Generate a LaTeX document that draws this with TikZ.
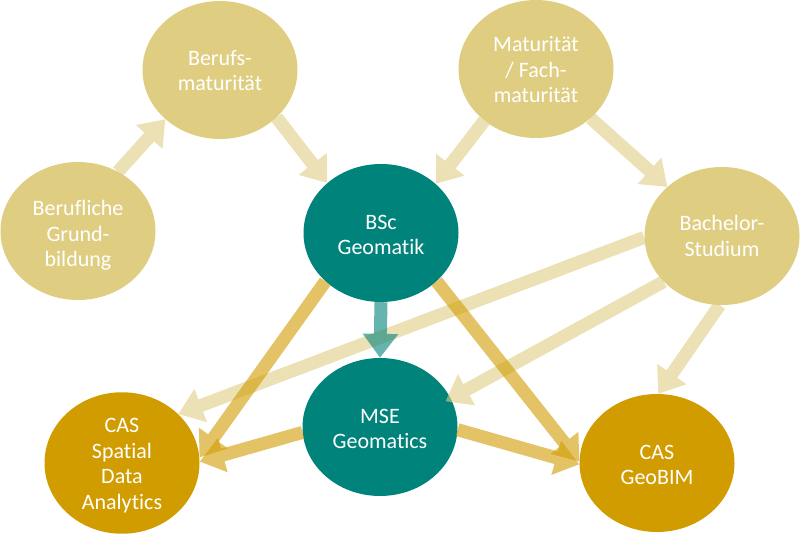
\documentclass[tikz,border=0pt]{standalone}
\usepackage{fontspec}
\setmainfont{Carlito}[Ligatures={NoCommon}]
\usetikzlibrary{arrows.meta,shapes.geometric}
\definecolor{tanC}{HTML}{DFCE82}
\definecolor{tealC}{HTML}{00837A}
\definecolor{goldC}{HTML}{D19C00}
\newcommand\mytopstrut[1]{\rule{0pt}{#1pt}}
\begin{document}
\begin{tikzpicture}[x=1pt,y=1pt,
  bub/.style={ellipse, minimum width=155pt, minimum height=138pt, inner sep=0pt,
    text=white, align=center, font=\fontsize{22}{25.5}\selectfont},
  pale/.style={bub, fill=tanC},
  tealbub/.style={bub, fill=tealC},
  goldbub/.style={bub, fill=goldC},
  arr/.style={line width=13pt, -{Triangle[width=34pt,length=24pt]}},
  palearr/.style={arr, draw=tanC},
  goldarr/.style={arr, draw=goldC},
  tealarr/.style={arr, draw=tealC}]
\useasboundingbox (0,0) rectangle (800,533);
\fill[white] (0,0) rectangle (800,533);

\node[pale] (gb) at (78,302) {\mytopstrut{24}Berufliche\\Grund-\\bildung};
\node[pale] (bm) at (220,463) {\mytopstrut{16}Berufs-\\maturität};
\node[pale] (mat) at (536,464) {\mytopstrut{17}Maturität\\/ Fach-\\maturität};
\node[tealbub] (bsc) at (381,300) {\mytopstrut{18}BSc\\Geomatik};
\node[pale] (bach) at (722,297) {Bachelor-\\Studium};
\node[tealbub] (mse) at (380,106) {\mytopstrut{18}MSE\\Geomatics};
\node[goldbub] (cas1) at (122,70) {\mytopstrut{20}CAS\\Spatial\\Data\\Analytics};
\node[goldbub] (cas2) at (657,70) {\mytopstrut{18}CAS\\GeoBIM};

\begin{scope}[transparency group, opacity=0.6]
\draw[palearr] (gb.56) -- (bm.222);
\end{scope}
\begin{scope}[transparency group, opacity=0.6]
\draw[palearr] (bm.-40) -- (bsc.137);
\end{scope}
\begin{scope}[transparency group, opacity=0.6]
\draw[palearr] (mat.225) -- (bsc.42);
\end{scope}
\begin{scope}[transparency group, opacity=0.6]
\draw[palearr] (mat.-42) -- (bach.138);
\end{scope}
\begin{scope}[transparency group, opacity=0.6]
\draw[palearr] (bach.181) -- (cas1.41);
\end{scope}
\begin{scope}[transparency group, opacity=0.6]
\draw[palearr, shorten >=-6pt] (bach.218) -- (mse.22);
\end{scope}
\begin{scope}[transparency group, opacity=0.6]
\draw[palearr] (bach.-92) -- (cas2.89);
\end{scope}
\begin{scope}[transparency group, opacity=0.6]
\draw[goldarr] (bsc.221) -- (cas1.4);
\end{scope}
\begin{scope}[transparency group, opacity=0.6]
\draw[goldarr] (bsc.-41) -- (cas2.179);
\end{scope}
\begin{scope}[transparency group, opacity=0.6]
\draw[goldarr] (mse.184) -- (cas1.1);
\end{scope}
\begin{scope}[transparency group, opacity=0.6]
\draw[goldarr] (mse.-2) -- (cas2.181);
\end{scope}
\begin{scope}[transparency group, opacity=0.6]
\draw[tealarr] (bsc.-90) -- (mse.90);
\end{scope}
\end{tikzpicture}
\end{document}
